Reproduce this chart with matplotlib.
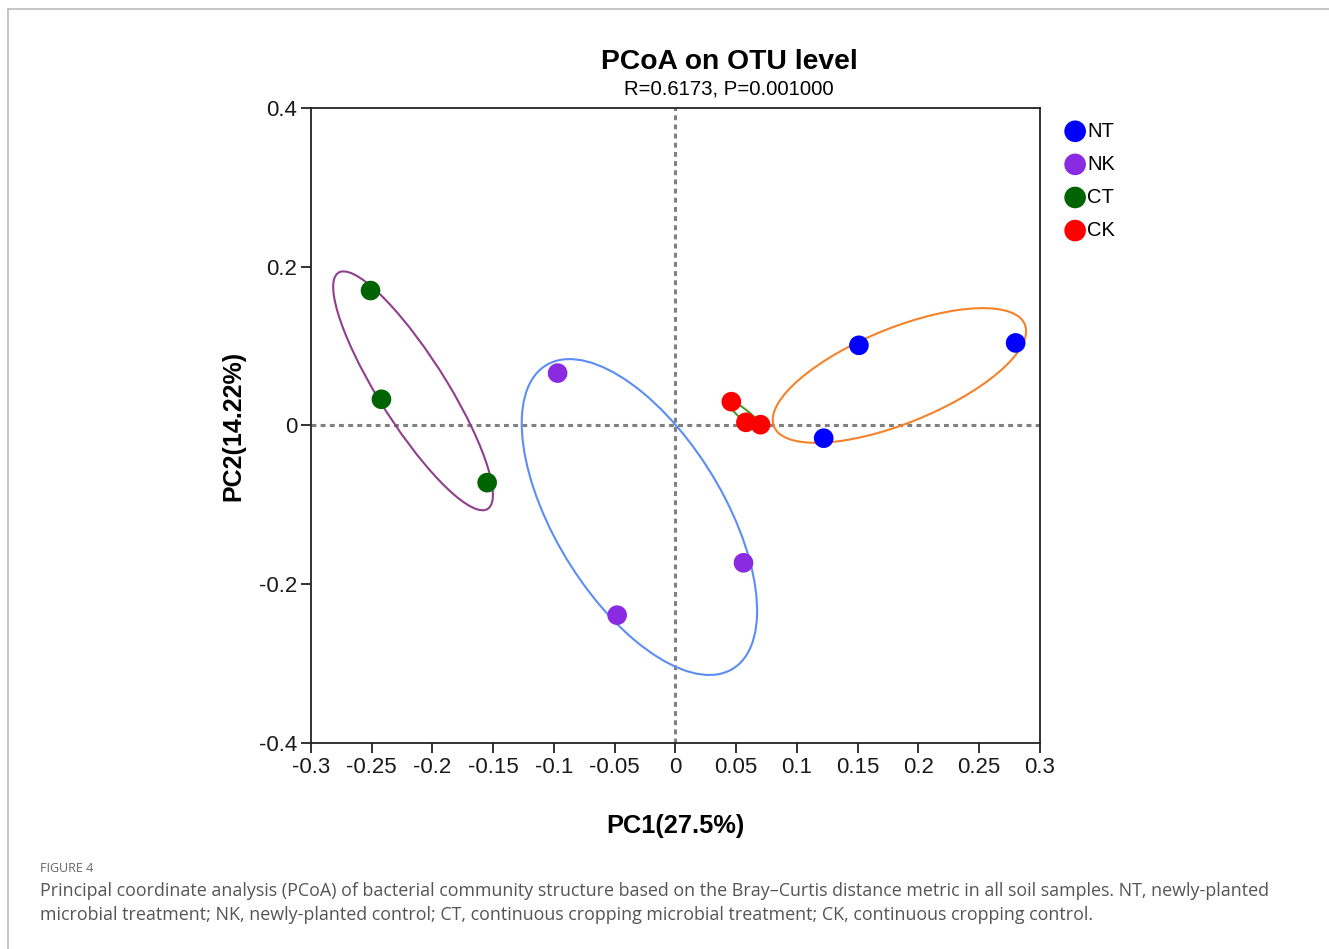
import numpy as np
import matplotlib
matplotlib.use("Agg")
import matplotlib.pyplot as plt
from matplotlib.patches import Ellipse
from matplotlib.lines import Line2D

# PCoA coordinates
groups = ['NT', 'NK', 'CT', 'CK']
nt_pc1 = [0.151, 0.280, 0.122]
nt_pc2 = [0.101, 0.104, -0.016]
nk_pc1 = [-0.097, 0.056, -0.048]
nk_pc2 = [0.066, -0.173, -0.239]
ct_pc1 = [-0.251, -0.242, -0.155]
ct_pc2 = [0.170, 0.033, -0.072]
ck_pc1 = [0.046, 0.058, 0.070]
ck_pc2 = [0.030, 0.004, 0.001]

point_colors = ['#0000FF', '#8A2BE2', '#006400', '#FF0000']
ellipse_colors = ['#F5822A', '#5B8DF5', '#8E3F8E', '#4A9A2E']

x_ticks = [-0.3, -0.25, -0.2, -0.15, -0.1, -0.05, 0, 0.05, 0.1, 0.15, 0.2, 0.25, 0.3]
y_ticks = [-0.4, -0.2, 0, 0.2, 0.4]

plt.rcParams['font.family'] = ['Liberation Sans', 'DejaVu Sans']


def add_ellipse(ax, xs, ys, color, k=1.24):
    pts = np.column_stack([xs, ys])
    cov = np.cov(pts, rowvar=False)
    vals, vecs = np.linalg.eigh(cov)
    order = vals.argsort()[::-1]
    vals, vecs = vals[order], vecs[:, order]
    angle = np.degrees(np.arctan2(vecs[1, 0], vecs[0, 0]))
    w, h = 2 * k * np.sqrt(vals)
    ell = Ellipse(pts.mean(axis=0), w, h, angle=angle, fill=False,
                  edgecolor=color, linewidth=1.5, zorder=2)
    ax.add_patch(ell)


fig = plt.figure(figsize=(13.29, 9.49), dpi=100)
ax = fig.add_axes([0.234, 0.2171, 0.5485, 0.6691])

ax.axhline(0, color='#808080', linewidth=2.2, linestyle=(0, (1.6, 1.4)), zorder=1)
ax.axvline(0, color='#808080', linewidth=2.2, linestyle=(0, (1.6, 1.4)), zorder=1)

data = [(nt_pc1, nt_pc2), (nk_pc1, nk_pc2), (ct_pc1, ct_pc2), (ck_pc1, ck_pc2)]
for (xs, ys), name, pc, ec in zip(data, groups, point_colors, ellipse_colors):
    add_ellipse(ax, xs, ys, ec)
    ax.scatter(xs, ys, s=200, color=pc, edgecolors='none', zorder=3, label=name)

ax.set_xlim(-0.3, 0.3)
ax.set_ylim(-0.4, 0.4)
ax.set_xticks(x_ticks)
ax.set_xticklabels(['-0.3', '-0.25', '-0.2', '-0.15', '-0.1', '-0.05', '0', '0.05',
                    '0.1', '0.15', '0.2', '0.25', '0.3'])
ax.set_yticks(y_ticks)
ax.set_yticklabels(['-0.4', '-0.2', '0', '0.2', '0.4'])
ax.tick_params(direction='out', length=7, width=1.3, labelsize=16, pad=3,
               color='#222222', labelcolor='#1a1a1a')
for sp in ax.spines.values():
    sp.set_linewidth(1.3)
    sp.set_color('#222222')

ax.set_xlabel('PC1(27.5%)', fontsize=18.3, fontweight='bold', labelpad=26)
ax.set_ylabel('PC2(14.22%)', fontsize=18, fontweight='bold', labelpad=10)

fig.text(0.5485, 0.935, 'PCoA on OTU level', ha='center', va='center',
         fontsize=20.3, fontweight='bold')
fig.text(0.5485, 0.906, 'R=0.6173, P=0.001000', ha='center', va='center', fontsize=14.7)

leg = ax.legend(loc='upper left', bbox_to_anchor=(0.787, 0.891),
                bbox_transform=fig.transFigure, frameon=False, fontsize=14.5,
                handletextpad=0.05, labelspacing=0.7, markerscale=1.1,
                handlelength=1.1)

# page frame and caption
fig.add_artist(Line2D([0.006, 1.0], [0.9905, 0.9905], color='#BBBBBB', linewidth=1.2))
fig.add_artist(Line2D([0.006, 0.006], [0.0, 0.9905], color='#BBBBBB', linewidth=1.2))
fig.text(0.030, 0.085, 'FIGURE 4', fontsize=9, color='#666666', family='Open Sans',
         va='center')
fig.text(0.030, 0.061, 'Principal coordinate analysis (PCoA) of bacterial community structure '
         'based on the Bray\u2013Curtis distance metric in all soil samples. NT, newly-planted',
         fontsize=12.9, color='#555555', family='Open Sans', va='center')
fig.text(0.030, 0.036, 'microbial treatment; NK, newly-planted control; CT, continuous cropping '
         'microbial treatment; CK, continuous cropping control.',
         fontsize=12.9, color='#555555', family='Open Sans', va='center')

fig.savefig('out.png', dpi=100)
